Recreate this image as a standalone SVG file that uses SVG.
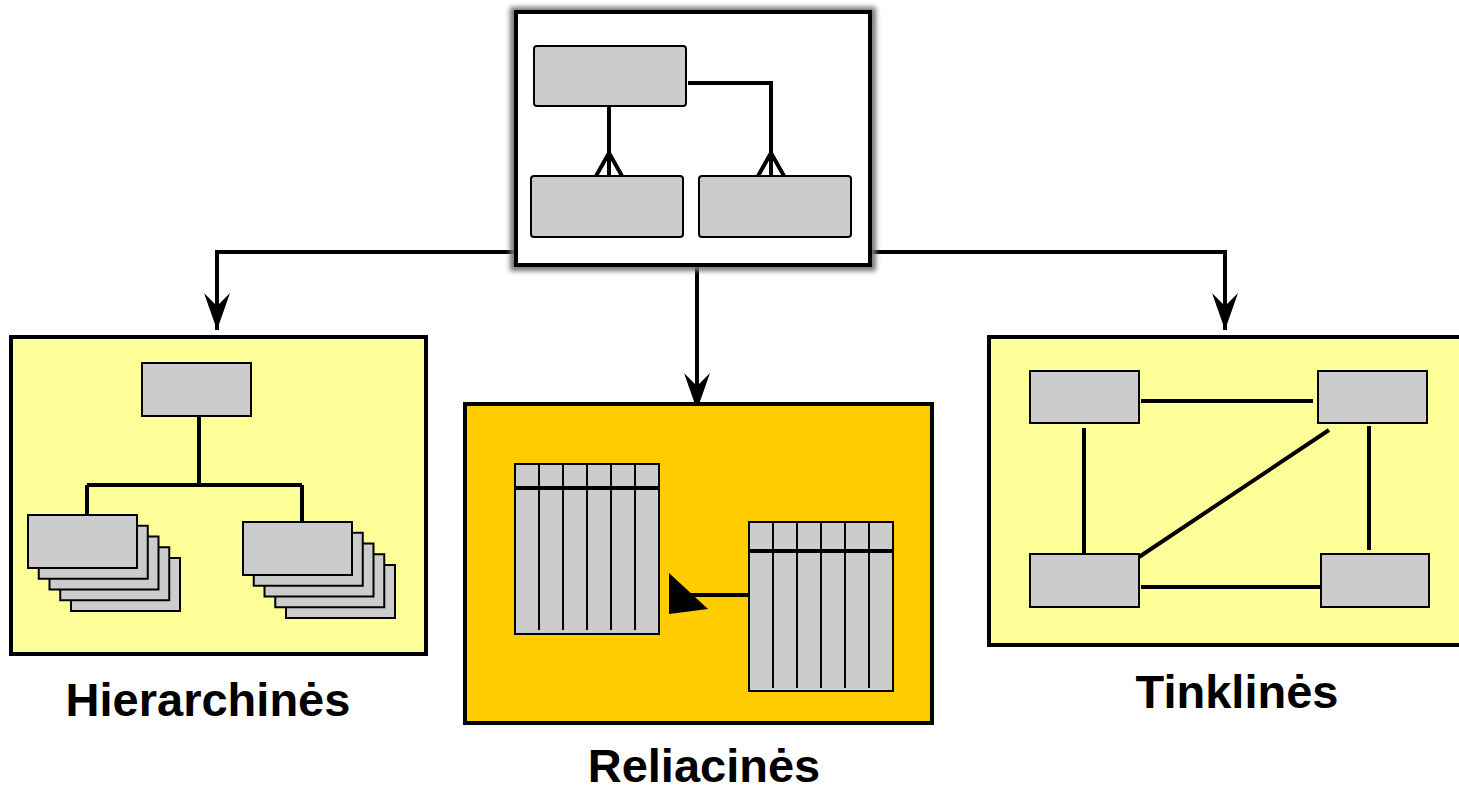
<svg xmlns="http://www.w3.org/2000/svg" width="1459" height="787" viewBox="0 0 1459 787">
<style>
.ent{fill:#cccccc;stroke:#000;stroke-width:2}
.panel{stroke:#000;stroke-width:4}
.ln{stroke:#000;stroke-width:4;fill:none}
.col{stroke:#000;stroke-width:2}
.lbl{font-family:"Liberation Sans",Arial,sans-serif;font-weight:bold;font-size:47px;fill:#000;text-anchor:middle}
</style>
<defs>
<filter id="sh" x="-10%" y="-10%" width="120%" height="120%">
<feGaussianBlur stdDeviation="2.5"/>
</filter>
<marker id="ar" markerUnits="userSpaceOnUse" viewBox="0 0 38 26" markerWidth="38" markerHeight="26" refX="37" refY="13" orient="auto">
<path d="M37,13 L0,0 L13,13 L0,26 Z" fill="#000"/>
</marker>
</defs>
<rect width="1459" height="787" fill="#fff"/>

<g id="connectors">
<polyline class="ln" points="518,252 217,252 217,330" marker-end="url(#ar)"/>
<polyline class="ln" points="697,267 697,410" marker-end="url(#ar)"/>
<polyline class="ln" points="870,252 1225,252 1225,330" marker-end="url(#ar)"/>
</g>

<g id="top-model">
<rect x="514" y="11" width="358" height="256" fill="none" stroke="#777" stroke-width="8" filter="url(#sh)"/>
<rect x="516" y="12" width="354" height="253" fill="#fff" stroke="#000" stroke-width="4"/>
<rect class="ent" x="534" y="46" width="152" height="60" rx="3"/>
<rect class="ent" x="531" y="176" width="152" height="61" rx="3"/>
<rect class="ent" x="699" y="176" width="152" height="61" rx="3"/>
<path class="ln" d="M609,106 V176 M609,153 L596,176 M609,153 L622,176"/>
<path class="ln" d="M688,83 H771 V176 M771,153 L758,176 M771,153 L784,176"/>
</g>

<g id="hierarchines">
<rect class="panel" x="11" y="337" width="415" height="317" fill="#ffff99"/>
<rect class="ent" x="142" y="363" width="109" height="53"/>
<path class="ln" d="M199,416 V485 M87,485 H302 M87,485 V515 M302,485 V523"/>
<rect class="ent" x="71" y="558" width="109" height="53"/>
<rect class="ent" x="60.25" y="547.25" width="109" height="53"/>
<rect class="ent" x="49.5" y="536.5" width="109" height="53"/>
<rect class="ent" x="38.75" y="525.75" width="109" height="53"/>
<rect class="ent" x="28" y="515" width="109" height="53"/>
<rect class="ent" x="286" y="565" width="109" height="53"/>
<rect class="ent" x="275.25" y="554.25" width="109" height="53"/>
<rect class="ent" x="264.5" y="543.5" width="109" height="53"/>
<rect class="ent" x="253.75" y="532.75" width="109" height="53"/>
<rect class="ent" x="243" y="522" width="109" height="53"/>
<text class="lbl" x="208" y="716">Hierarchinės</text>
</g>

<g id="reliacines">
<rect class="panel" x="465" y="404" width="467" height="319" fill="#ffcc00"/>
<rect class="ent" x="515" y="464" width="144" height="170"/>
<path class="col" d="M539,464 V630 M563,464 V630 M587,464 V630 M611,464 V630 M635,464 V630"/>
<path class="ln" d="M515,488 H659"/>
<rect class="ent" x="749" y="522" width="144" height="169"/>
<path class="col" d="M773,522 V688 M797,522 V688 M821,522 V688 M845,522 V688 M869,522 V688"/>
<path class="ln" d="M749,551 H893"/>
<path class="ln" d="M749,595 H690"/>
<polygon points="669,573 669,614 708,609" fill="#000"/>
<text class="lbl" x="704" y="782">Reliacinės</text>
</g>

<g id="tinklines">
<rect class="panel" x="989" y="337" width="480" height="308" fill="#ffff99"/>
<rect class="ent" x="1030" y="371" width="109" height="52"/>
<rect class="ent" x="1318" y="371" width="109" height="52"/>
<rect class="ent" x="1030" y="554" width="109" height="53"/>
<rect class="ent" x="1321" y="554" width="108" height="53"/>
<path class="ln" d="M1141,401 H1313 M1084,428 V554 M1369,426 V550 M1329,430 L1139,557 M1141,587 H1321"/>
<text class="lbl" x="1237" y="708">Tinklinės</text>
</g>
</svg>
